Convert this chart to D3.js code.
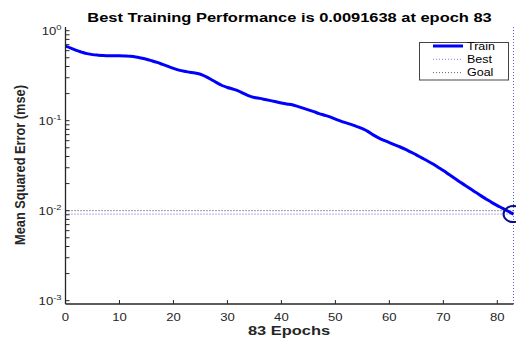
<!DOCTYPE html>
<html>
<head>
<meta charset="utf-8">
<script src="https://cdn.jsdelivr.net/npm/d3@7"></script>
<style>
  html, body { margin: 0; padding: 0; background: #fff; }
  svg { display: block; }
  text { font-family: "Liberation Sans", Arial, sans-serif; }
</style>
</head>
<body>
<svg id="chart" width="516" height="340"></svg>
<script>
// ---------------- data ----------------
const epochs = d3.range(0, 84);
const trainPerf = [
  0.673, 0.640, 0.603, 0.578, 0.556, 0.542, 0.535, 0.531, 0.528, 0.527,
  0.526, 0.523, 0.519, 0.511, 0.497, 0.482, 0.463, 0.444, 0.422, 0.401,
  0.381, 0.365, 0.354, 0.346, 0.338, 0.328, 0.309, 0.287, 0.265, 0.246,
  0.234, 0.225, 0.215, 0.201, 0.189, 0.181, 0.177, 0.172, 0.167, 0.162,
  0.157, 0.153, 0.150, 0.144, 0.138, 0.132, 0.126, 0.120, 0.115, 0.110,
  0.104, 0.0990, 0.0945, 0.0903, 0.0860, 0.0815, 0.0761, 0.0696, 0.0645, 0.0605,
  0.0572, 0.0540, 0.0510, 0.0479, 0.0447, 0.0417, 0.0386, 0.0359, 0.0332, 0.0304,
  0.0279, 0.0254, 0.0231, 0.0210, 0.0192, 0.0175, 0.0160, 0.0146, 0.0134, 0.0123,
  0.0114, 0.0106, 0.00985, 0.0091638
];
const bestEpoch = 83;
const bestPerf = 0.0091638;
const goalPerf = 0.01;
const xTicks = [0, 10, 20, 30, 40, 50, 60, 70, 80];
const yMajorExps = [0, -1, -2, -3];
const legendLabels = ["Train", "Best", "Goal"];
const titleText = "Best Training Performance is 0.0091638 at epoch 83";
const xLabelText = "83 Epochs";
const yLabelText = "Mean Squared Error  (mse)";

(function () {
// ---------------- layout ----------------
const SX = 1.37;           // horizontal stretch of the reference (titles)
const SXs = 1.25;          // stretch for small texts
const pL = 65.5, pR = 513.5, pT = 27, pB = 304;
const axisColor = "#262626";

const svg = d3.select("#chart");

const x = d3.scaleLinear().domain([0, 83]).range([pL, pR]);
const y = d3.scaleLog().domain([Math.pow(10, -3.037), Math.pow(10, 0.041)]).range([pB, pT]);

function stext(g, tx, ty, str, size, weight, anchor, fill, sx) {
  return g.append("text")
    .attr("transform", `translate(${tx},${ty}) scale(${sx},1)`)
    .attr("text-anchor", anchor)
    .attr("font-size", size)
    .attr("font-weight", weight)
    .attr("fill", fill)
    .text(str);
}

// goal line (black dotted)
svg.append("line")
  .attr("x1", x(0)).attr("x2", x(83))
  .attr("y1", y(goalPerf)).attr("y2", y(goalPerf))
  .attr("stroke", "#333").attr("stroke-width", 1)
  .attr("stroke-dasharray", "1,2");

// best lines (blue dotted)
svg.append("line")
  .attr("x1", x(0)).attr("x2", x(bestEpoch))
  .attr("y1", y(bestPerf)).attr("y2", y(bestPerf))
  .attr("stroke", "#5c5ce0").attr("stroke-width", 1)
  .attr("stroke-dasharray", "1,2");
svg.append("line")
  .attr("x1", x(bestEpoch)).attr("x2", x(bestEpoch))
  .attr("y1", pT).attr("y2", pB)
  .attr("stroke", "#5c5ce0").attr("stroke-width", 1)
  .attr("stroke-dasharray", "1,2");

// train line
const line = d3.line()
  .x((d, i) => x(epochs[i]))
  .y(d => y(d))
  .curve(d3.curveMonotoneX);
svg.append("path")
  .datum(trainPerf)
  .attr("d", line)
  .attr("fill", "none")
  .attr("stroke", "#0000ff")
  .attr("stroke-width", 3)
  .attr("stroke-linejoin", "round");

// best marker
svg.append("ellipse")
  .attr("cx", x(bestEpoch)).attr("cy", y(bestPerf))
  .attr("rx", 10).attr("ry", 8)
  .attr("fill", "none")
  .attr("stroke", "#0a0a8c")
  .attr("stroke-width", 2);

// ---------------- axes ----------------
const axes = svg.append("g");
axes.append("line")
  .attr("x1", pL).attr("x2", pL).attr("y1", pT).attr("y2", pB)
  .attr("stroke", axisColor).attr("stroke-width", 1.3);
axes.append("line")
  .attr("x1", pL).attr("x2", pR).attr("y1", pB).attr("y2", pB)
  .attr("stroke", axisColor).attr("stroke-width", 1.3);

xTicks.forEach(t => {
  axes.append("line")
    .attr("x1", x(t)).attr("x2", x(t)).attr("y1", pB).attr("y2", pB - 4)
    .attr("stroke", axisColor).attr("stroke-width", 1);
  stext(axes, x(t), 320.5, String(t), 10.5, "normal", "middle", "#262626", SXs);
});

yMajorExps.forEach(e => {
  const [d0, d1] = y.domain();
  for (let m = 1; m <= 9; m++) {
    const v = m * Math.pow(10, e);
    if (v < d0 || v > d1) continue;
    axes.append("line")
      .attr("x1", pL).attr("x2", pL + 4)
      .attr("y1", y(v)).attr("y2", y(v))
      .attr("stroke", axisColor).attr("stroke-width", 1);
  }
  const lab = axes.append("text")
    .attr("transform", `translate(61.5,${y(Math.pow(10, e)) + 4.5}) scale(${SXs},1)`)
    .attr("text-anchor", "end")
    .attr("font-size", 10.5)
    .attr("fill", "#262626");
  lab.append("tspan").text("10");
  lab.append("tspan").attr("dy", -5).attr("font-size", 7.5).text(String(e));
});

// ---------------- titles ----------------
stext(svg, 289.5, 21.5, titleText, 12, "bold", "middle", "#000", SX);
stext(svg, 289, 334.5, xLabelText, 12, "bold", "middle", "#262626", SX);

svg.append("text")
  .attr("transform", `translate(25,165) scale(1.15,1) rotate(-90)`)
  .attr("text-anchor", "middle")
  .attr("font-size", 12.8)
  .attr("font-weight", "bold")
  .attr("fill", "#262626")
  .text(yLabelText);

// ---------------- legend ----------------
const lg = svg.append("g");
lg.append("rect")
  .attr("x", 419.5).attr("y", 42.5).attr("width", 89).attr("height", 37.5)
  .attr("fill", "#fff").attr("stroke", "#444").attr("stroke-width", 1);
const legendStyles = [
  { stroke: "#0000ff", width: 3, dash: null },
  { stroke: "#8080e8", width: 1, dash: "1,2" },
  { stroke: "#666", width: 1, dash: "1,2" }
];
legendLabels.forEach((lab, i) => {
  const ly = 46 + i * 13.3;
  const st = legendStyles[i];
  const l = lg.append("line")
    .attr("x1", 433).attr("x2", 463).attr("y1", ly).attr("y2", ly)
    .attr("stroke", st.stroke).attr("stroke-width", st.width);
  if (st.dash) l.attr("stroke-dasharray", st.dash);
  stext(lg, 467, ly + 3.6, lab, 10, "normal", "start", "#000", SXs);
});
})();
</script>
</body>
</html>
